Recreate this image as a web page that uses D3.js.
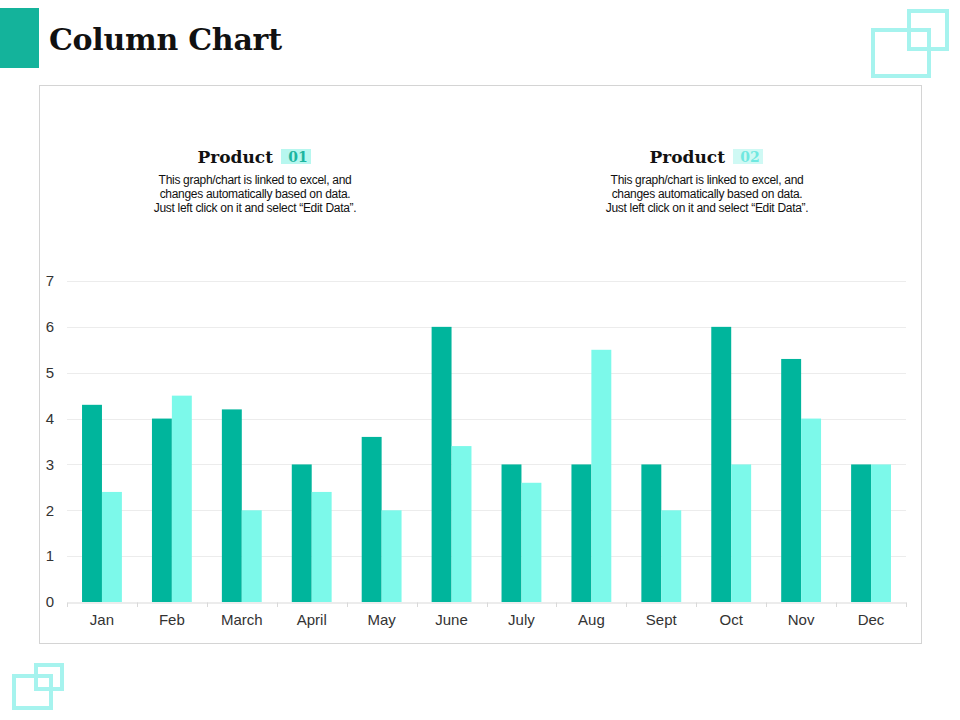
<!DOCTYPE html>
<html><head><meta charset="utf-8">
<script src="https://cdn.jsdelivr.net/npm/d3@7/dist/d3.min.js"></script>
<style>body{margin:0;background:#fff}svg{display:block}</style>
</head><body>
<svg id="c" width="960" height="720"></svg>
<script>
const months = ["Jan","Feb","March","April","May","June","July","Aug","Sept","Oct","Nov","Dec"];
const product01 = [4.3,4.0,4.2,3.0,3.6,6.0,3.0,3.0,3.0,6.0,5.3,3.0];
const product02 = [2.4,4.5,2.0,2.4,2.0,3.4,2.6,5.5,2.0,3.0,4.0,3.0];
const yTicks = [0,1,2,3,4,5,6,7];
const seriesNames = ["Product 01","Product 02"];
const descLines = ["This graph/chart is linked to excel, and","changes automatically based on data.","Just left click on it and select \u201cEdit Data\u201d."];

const dark = "#00B59C", light = "#7CF9EA", deco = "#A6F3EE";
const svg = d3.select("#c");

// header
svg.append("rect").attr("x",0).attr("y",8).attr("width",39).attr("height",60).attr("fill","#14B39B");
svg.append("text").attr("x",49).attr("y",50).attr("font-family","DejaVu Serif").attr("font-weight","bold")
  .attr("font-size",30).attr("fill","#111").attr("textLength",233).text("Column Chart");

// decorations
const dec = [[873,30,56,46],[909,11,38,38],[14,676,37,32],[36,665,26,24]];
svg.selectAll("rect.dec").data(dec).join("rect").attr("class","dec")
  .attr("x",d=>d[0]).attr("y",d=>d[1]).attr("width",d=>d[2]).attr("height",d=>d[3])
  .attr("fill","none").attr("stroke",deco).attr("stroke-width",4);

// frame
svg.append("rect").attr("x",39.5).attr("y",85.5).attr("width",882).attr("height",558)
  .attr("fill","none").attr("stroke","#d4d4d4").attr("stroke-width",1);

// chart
const x = d3.scaleBand().domain(months).range([67,906]).paddingInner(0.43).paddingOuter(0.215);
const y = d3.scaleLinear().domain([0,7]).range([602,281]);

const g = svg.append("g");
g.selectAll("line.grid").data(yTicks.slice(1)).join("line").attr("class","grid")
  .attr("x1",67).attr("x2",906).attr("y1",d=>Math.round(y(d))+0.5).attr("y2",d=>Math.round(y(d))+0.5)
  .attr("stroke","#ececec");

const bw = x.bandwidth()/2;
g.selectAll("rect.s1").data(months).join("rect").attr("class","s1")
  .attr("x",d=>x(d)).attr("width",bw).attr("y",(d,i)=>y(product01[i])).attr("height",(d,i)=>y(0)-y(product01[i]))
  .attr("fill",dark);
g.selectAll("rect.s2").data(months).join("rect").attr("class","s2")
  .attr("x",d=>x(d)+bw).attr("width",bw).attr("y",(d,i)=>y(product02[i])).attr("height",(d,i)=>y(0)-y(product02[i]))
  .attr("fill",light);

// x axis
const xb = d3.scaleBand().domain(months).range([67,906]);
const xAxis = svg.append("g").attr("transform","translate(0,602.5)")
  .call(d3.axisBottom(xb).tickSize(0).tickPadding(12));
xAxis.select(".domain").attr("stroke","#d9d9d9");
xAxis.selectAll("text").attr("font-family","Liberation Sans, Arial").attr("font-size",15).attr("fill","#333");
svg.append("g").selectAll("line").data(d3.range(13)).join("line")
  .attr("x1",i=>Math.round(67+i*xb.step())+0.5).attr("x2",i=>Math.round(67+i*xb.step())+0.5)
  .attr("y1",602.5).attr("y2",607).attr("stroke","#d9d9d9");

// y axis labels
const yAxis = svg.append("g").attr("transform","translate(54,0)")
  .call(d3.axisLeft(y).tickValues(yTicks).tickSize(0).tickPadding(0).tickFormat(d3.format("d")));
yAxis.select(".domain").remove();
yAxis.selectAll("text").attr("font-family","Liberation Sans, Arial").attr("font-size",15).attr("fill","#333");

// product captions
const caps = [{cx:255,name:seriesNames[0],hl:"#B7F7EF",num:"#1DB5A0"},{cx:707,name:seriesNames[1],hl:"#CFF9F4",num:"#6FE8E0"}];
caps.forEach(c=>{
  const parts = c.name.split(" ");
  svg.append("rect").attr("x",c.cx+26).attr("y",149).attr("width",30).attr("height",15).attr("fill",c.hl);
  svg.append("text").attr("x",c.cx+18).attr("y",163).attr("text-anchor","end")
    .attr("font-family","DejaVu Serif").attr("font-weight","bold").attr("font-size",17).attr("fill","#111").text(parts[0]);
  svg.append("text").attr("x",c.cx+43).attr("y",162).attr("text-anchor","middle")
    .attr("font-family","DejaVu Serif").attr("font-weight","bold").attr("font-size",14).attr("fill",c.num).text(parts[1]);
  descLines.forEach((l,i)=>{
    svg.append("text").attr("x",c.cx).attr("y",184+i*14).attr("text-anchor","middle")
      .attr("font-family","Liberation Sans, Arial").attr("font-size",12).attr("letter-spacing",-0.3)
      .attr("fill","#111").text(l);
  });
});
</script>
</body></html>
